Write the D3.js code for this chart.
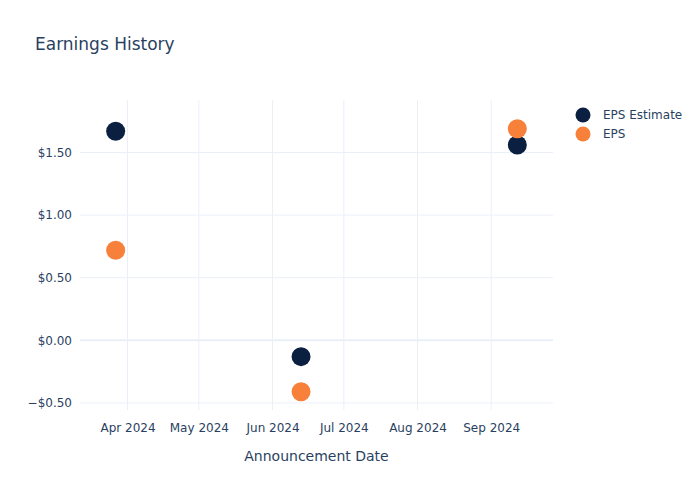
<!DOCTYPE html>
<html>
<head>
<meta charset="utf-8">
<script src="https://cdn.jsdelivr.net/npm/d3@7"></script>
<style>
  body { margin: 0; background: #fff; }
  text { font-family: "DejaVu Sans", sans-serif; fill: #2a3f5f; }
</style>
</head>
<body>
<div id="chart"></div>
<script>
// Datos
const dates = ["2024-03-27", "2024-06-13", "2024-09-12"];
const epsEstimate = [1.67, -0.13, 1.56];
const eps = [0.72, -0.41, 1.69];
const yTicks = [-0.5, 0, 0.5, 1, 1.5];
const xTicks = ["2024-04-01", "2024-05-01", "2024-06-01", "2024-07-01", "2024-08-01", "2024-09-01"];

const parse = d3.timeParse("%Y-%m-%d");
const width = 700, height = 500;
const margin = { left: 80, right: 147, top: 100, bottom: 90 };

const svg = d3.select("#chart").append("svg")
    .attr("width", width)
    .attr("height", height);

// Escalas
const x = d3.scaleTime()
    .domain([parse("2024-03-12"), parse("2024-09-27")])
    .range([margin.left, width - margin.right]);

const y = d3.scaleLinear()
    .domain([-0.556, 1.919])
    .range([height - margin.bottom, margin.top]);

// Rejilla
svg.append("g")
    .selectAll("line")
    .data(xTicks.map(parse))
    .join("line")
    .attr("x1", d => x(d)).attr("x2", d => x(d))
    .attr("y1", margin.top).attr("y2", height - margin.bottom)
    .attr("stroke", "#ebf0f8").attr("stroke-width", 1);

svg.append("g")
    .selectAll("line")
    .data(yTicks)
    .join("line")
    .attr("x1", margin.left).attr("x2", width - margin.right)
    .attr("y1", d => y(d)).attr("y2", d => y(d))
    .attr("stroke", "#ebf0f8")
    .attr("stroke-width", d => d === 0 ? 2 : 1);

// Ejes
const fmtMoney = d => (d < 0 ? "\u2212$" : "$") + Math.abs(d).toFixed(2);
const yAxis = svg.append("g")
    .attr("transform", `translate(${margin.left},0)`)
    .call(d3.axisLeft(y).tickValues(yTicks).tickFormat(fmtMoney).tickSize(0).tickPadding(8));
yAxis.select(".domain").remove();
yAxis.selectAll("text").style("font-size", "12px").attr("fill", "#2a3f5f");

const xAxis = svg.append("g")
    .attr("transform", `translate(0,${height - margin.bottom})`)
    .call(d3.axisBottom(x).tickValues(xTicks.map(parse)).tickFormat(d3.timeFormat("%b %Y")).tickSize(0).tickPadding(13));
xAxis.select(".domain").remove();
xAxis.selectAll("text").style("font-size", "12px").attr("fill", "#2a3f5f");

// Títulos
svg.append("text")
    .attr("x", 35).attr("y", 50)
    .style("font-size", "17px")
    .text("Earnings History");

svg.append("text")
    .attr("x", (margin.left + width - margin.right) / 2)
    .attr("y", 461)
    .attr("text-anchor", "middle")
    .style("font-size", "14px")
    .text("Announcement Date");

// Puntos
const series = [
    { name: "EPS Estimate", values: epsEstimate, color: "#0b1f41" },
    { name: "EPS", values: eps, color: "#f7813a" }
];

series.forEach(s => {
    svg.append("g")
        .selectAll("circle")
        .data(dates.map((d, i) => ({ date: parse(d), value: s.values[i] })))
        .join("circle")
        .attr("cx", d => x(d.date))
        .attr("cy", d => y(d.value))
        .attr("r", 9.5)
        .attr("fill", s.color);
});

// Leyenda
const legend = svg.append("g").attr("transform", "translate(583,115)");
series.forEach((s, i) => {
    const g = legend.append("g").attr("transform", `translate(0,${i * 19})`);
    g.append("circle").attr("r", 7.5).attr("fill", s.color);
    g.append("text").attr("x", 20).attr("dy", "0.35em")
        .style("font-size", "12px").text(s.name);
});
</script>
</body>
</html>
